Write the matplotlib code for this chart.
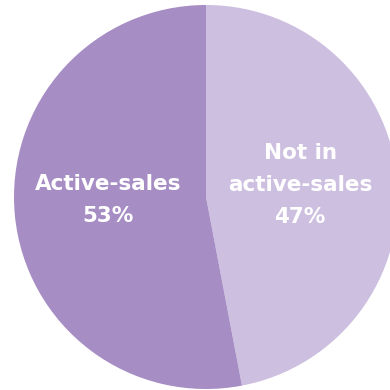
import matplotlib.pyplot as plt

labels = ["Not in\nactive-sales\n47%", "Active-sales\n53%"]
values = [47, 53]
colors = ["#cdbfe0", "#a68dc4"]

fig = plt.figure(figsize=(3.9, 3.9), dpi=100)
ax = fig.add_axes([0, 0, 1, 1])

wedges, _ = ax.pie(values, colors=colors, startangle=90, counterclock=False,
                   center=(206, 193), radius=192, frame=True)

# labels placed by hand inside each slice
ax.text(108, 190, labels[1], ha="center", va="center", color="white",
        fontsize=15.5, fontweight="bold", linespacing=1.75)
ax.text(300, 205, labels[0], ha="center", va="center", color="white",
        fontsize=15.5, fontweight="bold", linespacing=1.75)

ax.set_xlim(0, 390)
ax.set_ylim(0, 390)
ax.set_aspect("equal")
ax.axis("off")

fig.savefig("out.png", dpi=100)
